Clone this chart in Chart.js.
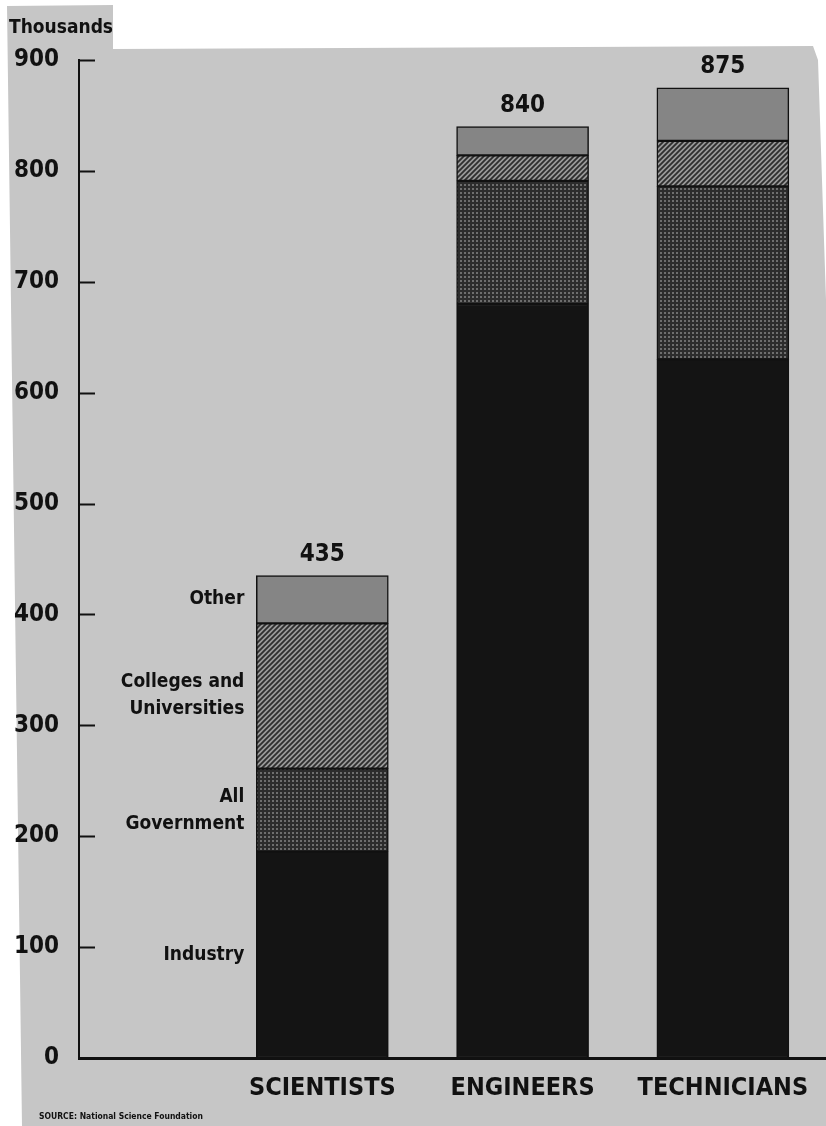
<!DOCTYPE html>
<html>
<head>
<meta charset="utf-8">
<script src="https://cdn.jsdelivr.net/npm/chart.js@4.4.1/dist/chart.umd.min.js"></script>
<style>
    html, body { margin: 0; padding: 0; background: #ffffff; }
    #wrap { width: 826px; height: 1126px; }
</style>
</head>
<body>
<div id="wrap"><canvas id="workforceChart" width="826" height="1126"></canvas></div>
<script>
// ---------------- Datos ----------------
const categories = ['SCIENTISTS', 'ENGINEERS', 'TECHNICIANS'];
const xPositions = [1, 2, 3];
const totals = [435, 840, 875];

const industry = [186, 680, 630];
const government = [75, 111, 156];
const colleges = [131, 23, 41];
const other = [43, 26, 48];

const segmentLabels = [['Industry'], ['All', 'Government'], ['Colleges and', 'Universities'], ['Other']];

const INK = '#111111';
const PAPER = '#c6c6c6';
const NUM_FAMILY = "'DejaVu Sans Condensed', 'DejaVu Sans', sans-serif";
const TEXT_FAMILY = "'Liberation Sans Narrow', 'DejaVu Sans Condensed', sans-serif";

// ---------------- Tramas ----------------

function makePattern(size, draw) {
    const c = document.createElement('canvas');
    c.width = size;
    c.height = size;
    const g = c.getContext('2d');
    draw(g, size);
    return g.createPattern(c, 'repeat');
}

const dotsPattern = makePattern(4, (g, s) => {
    g.fillStyle = '#2c2c2c';
    g.fillRect(0, 0, s, s);
    g.fillStyle = '#6e6e6e';
    g.fillRect(0, 0, 2, 2);
});

const stripePattern = makePattern(5, (g, s) => {
    g.fillStyle = '#9a9a9a';
    g.fillRect(0, 0, s, s);
    g.strokeStyle = '#2e2e2e';
    g.lineWidth = 1.8;
    g.beginPath();
    g.moveTo(-1, s + 1); g.lineTo(s + 1, -1);
    g.moveTo(-1, 1); g.lineTo(1, -1);
    g.moveTo(s - 1, s + 1); g.lineTo(s + 1, s - 1);
    g.stroke();
});

// ---------------- Plugins ----------------

const paperPlugin = {
    id: 'paper',
    beforeDraw(chart) {
        const ctx = chart.ctx;
        ctx.save();
        ctx.fillStyle = PAPER;
        ctx.beginPath();
        ctx.moveTo(7, 6);
        ctx.lineTo(113, 5);
        ctx.lineTo(113, 49);
        ctx.lineTo(813, 46);
        ctx.lineTo(818, 60);
        ctx.lineTo(826, 300);
        ctx.lineTo(826, 1126);
        ctx.lineTo(22, 1126);
        ctx.closePath();
        ctx.fill();
        ctx.restore();
    }
};

const annotatePlugin = {
    id: 'annotate',
    afterDraw(chart) {
        const ctx = chart.ctx;
        const y = chart.scales.y;
        const area = chart.chartArea;
        ctx.save();

        // marcas del eje hacia dentro
        ctx.strokeStyle = INK;
        ctx.lineWidth = 2;
        y.ticks.forEach(t => {
            const py = Math.round(y.getPixelForValue(t.value)) + 0.5;
            ctx.beginPath();
            ctx.moveTo(area.left - 1, py);
            ctx.lineTo(area.left + 16, py);
            ctx.stroke();
        });

        ctx.fillStyle = INK;

        // totales encima de cada barra
        const topMeta = chart.getDatasetMeta(chart.data.datasets.length - 1);
        ctx.font = 'bold 24px ' + NUM_FAMILY;
        ctx.textAlign = 'center';
        ctx.textBaseline = 'middle';
        topMeta.data.forEach((bar, i) => {
            ctx.fillText(String(totals[i]), bar.x, bar.y - 21);
        });

        // etiquetas de segmentos junto a la primera barra
        ctx.font = 'bold 19px ' + TEXT_FAMILY;
        ctx.textAlign = 'right';
        chart.data.datasets.forEach((ds, di) => {
            const bar = chart.getDatasetMeta(di).data[0];
            const lines = segmentLabels[di];
            const cy = (bar.y + bar.base) / 2;
            const lh = 27;
            const left = bar.x - bar.width / 2 - 12;
            lines.forEach((line, li) => {
                ctx.fillText(line, left, cy + (li - (lines.length - 1) / 2) * lh);
            });
        });

        // titulo del eje y fuente
        ctx.textAlign = 'left';
        ctx.font = 'bold 19px ' + TEXT_FAMILY;
        ctx.fillText('Thousands', 9, 28);
        ctx.font = 'bold 8.5px ' + TEXT_FAMILY;
        ctx.fillText('SOURCE: National Science Foundation', 39, 1117);

        ctx.restore();
    }
};

// ---------------- Grafica ----------------

function toPoints(values) {
    return values.map((v, i) => ({ x: xPositions[i], y: v }));
}

const segmentStyle = {
    borderColor: INK,
    borderWidth: 1.5,
    borderSkipped: false,
    barThickness: 132
};

new Chart(document.getElementById('workforceChart'), {
    type: 'bar',
    data: {
        datasets: [
            { label: 'Industry', data: toPoints(industry), backgroundColor: '#141414', ...segmentStyle },
            { label: 'All Government', data: toPoints(government), backgroundColor: dotsPattern, ...segmentStyle },
            { label: 'Colleges and Universities', data: toPoints(colleges), backgroundColor: stripePattern, ...segmentStyle },
            { label: 'Other', data: toPoints(other), backgroundColor: '#858585', ...segmentStyle }
        ]
    },
    options: {
        responsive: false,
        animation: false,
        devicePixelRatio: 1,
        layout: { padding: { top: 60, left: 0, right: 0, bottom: 0 } },
        plugins: {
            legend: { display: false },
            tooltip: { enabled: false }
        },
        scales: {
            x: {
                type: 'linear',
                stacked: true,
                offset: false,
                min: -0.215,
                max: 3.515,
                grid: { display: false, offset: false },
                border: { display: true, color: INK, width: 3 },
                afterBuildTicks(axis) {
                    axis.ticks = xPositions.map(v => ({ value: v }));
                },
                afterFit(axis) { axis.height = 68; },
                ticks: {
                    autoSkip: false,
                    maxRotation: 0,
                    padding: 7,
                    color: INK,
                    font: { family: TEXT_FAMILY, size: 25, weight: 'bold' },
                    callback: v => categories[xPositions.indexOf(v)] || ''
                }
            },
            y: {
                stacked: true,
                min: 0,
                max: 900,
                grid: { display: false },
                border: { display: true, color: INK, width: 2 },
                afterFit(axis) { axis.width = 79; },
                ticks: {
                    stepSize: 100,
                    padding: 12,
                    color: INK,
                    font: { family: NUM_FAMILY, size: 24, weight: 'bold' }
                }
            }
        }
    },
    plugins: [paperPlugin, annotatePlugin]
});
</script>
</body>
</html>
